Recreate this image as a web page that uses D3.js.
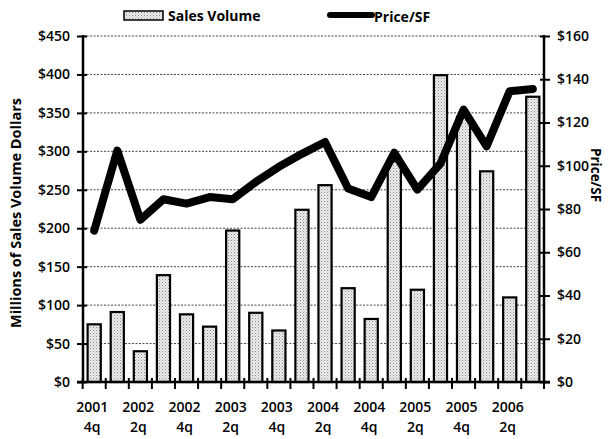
<!DOCTYPE html>
<html>
<head>
<meta charset="utf-8">
<script src="https://cdn.jsdelivr.net/npm/d3@7"></script>
<style>
  html, body { margin: 0; padding: 0; background: #fff; }
  svg { display: block; font-family: "Open Sans", "Noto Sans", sans-serif; }
</style>
</head>
<body>
<svg id="chart" width="613" height="439"></svg>
<script>
// Quarterly periods, 2001 Q4 through 2006 Q3
const quarters = ["2001 4q","2002 1q","2002 2q","2002 3q","2002 4q","2003 1q","2003 2q","2003 3q","2003 4q",
                  "2004 1q","2004 2q","2004 3q","2004 4q","2005 1q","2005 2q","2005 3q","2005 4q",
                  "2006 1q","2006 2q","2006 3q"];
// Sales volume, millions of dollars
const salesVolume = [75, 91, 40, 139, 88, 72, 197, 90, 67, 224, 256, 122, 82, 287, 120, 399, 345, 274, 110, 371];
// Price per square foot, dollars
const pricePerSF = [70, 107, 75, 84.5, 82.5, 85.5, 84.5, 92.5, 99.5, 105.5, 111, 89.5, 85.5, 106, 89, 101, 126, 109, 134.5, 135.5];
// Axis ticks
const leftTicks = [0, 50, 100, 150, 200, 250, 300, 350, 400, 450];
const rightTicks = [0, 20, 40, 60, 80, 100, 120, 140, 160];
// Labelled quarters (every second period)
const labelledQuarters = ["2001 4q","2002 2q","2002 4q","2003 2q","2003 4q","2004 2q","2004 4q","2005 2q","2005 4q","2006 2q"];

(function () {
const svg = d3.select("#chart");
const plotL = 83, plotR = 544, plotT = 36, plotB = 382;

const x = d3.scaleBand().domain(quarters).range([plotL, plotR]).paddingInner(0.43).paddingOuter(0.2);
const step = x.step();
const yL = d3.scaleLinear().domain([0, 450]).range([plotB, plotT]);
const yR = d3.scaleLinear().domain([0, 160]).range([plotB, plotT]);

// Stippled fill for the bars
const defs = svg.append("defs");
const pat = defs.append("pattern").attr("id", "stipple").attr("patternUnits", "userSpaceOnUse")
  .attr("width", 3).attr("height", 3);
pat.append("rect").attr("width", 3).attr("height", 3).attr("fill", "#ececec");
pat.append("rect").attr("x", 0).attr("y", 0).attr("width", 1).attr("height", 1).attr("fill", "#8a8a8a");
pat.append("rect").attr("x", 1.5).attr("y", 1.5).attr("width", 1).attr("height", 1).attr("fill", "#b0b0b0");

// Gridlines
svg.append("g").selectAll("line").data(leftTicks.filter(d => d > 0)).join("line")
  .attr("x1", plotL).attr("x2", plotR)
  .attr("y1", d => yL(d)).attr("y2", d => yL(d))
  .attr("stroke", "#444").attr("stroke-width", 1).attr("stroke-dasharray", "2,1.5");

// Bars
svg.append("g").selectAll("rect").data(salesVolume).join("rect")
  .attr("x", (d, i) => x(quarters[i]))
  .attr("y", d => yL(d))
  .attr("width", x.bandwidth())
  .attr("height", d => plotB - yL(d))
  .attr("fill", "url(#stipple)")
  .attr("stroke", "#000").attr("stroke-width", 2.2);

// Price line
const line = d3.line()
  .x((d, i) => x(quarters[i]) + x.bandwidth() / 2)
  .y(d => yR(d));
svg.append("path").datum(pricePerSF)
  .attr("d", line)
  .attr("fill", "none").attr("stroke", "#000")
  .attr("stroke-width", 8).attr("stroke-linejoin", "round").attr("stroke-linecap", "round");

// Left axis
const gL = svg.append("g").attr("transform", `translate(${plotL},0)`)
  .call(d3.axisLeft(yL).tickValues(leftTicks).tickFormat(d => "$" + d).tickSize(5).tickPadding(8));
gL.select(".domain").attr("stroke-width", 2.5).attr("d", `M0,${plotT - 1}V${plotB + 1}`);
gL.selectAll(".tick line").attr("x1", 4).attr("x2", -6).attr("stroke-width", 2);
gL.selectAll(".tick text").attr("font-size", 14).attr("font-weight", 600).attr("fill", "#000")
  .attr("font-family", "'Open Sans', sans-serif");

// Right axis
const gR = svg.append("g").attr("transform", `translate(${plotR},0)`)
  .call(d3.axisRight(yR).tickValues(rightTicks).tickFormat(d => "$" + d).tickSize(5).tickPadding(8));
gR.select(".domain").attr("stroke-width", 2.5).attr("d", `M0,${plotT - 1}V${plotB + 1}`);
gR.selectAll(".tick line").attr("x1", -4).attr("x2", 6).attr("stroke-width", 2);
gR.selectAll(".tick text").attr("font-size", 14).attr("font-weight", 600).attr("fill", "#000")
  .attr("font-family", "'Open Sans', sans-serif");

// Bottom axis: baseline with ticks at period boundaries
svg.append("line").attr("x1", plotL - 6).attr("x2", plotR + 6).attr("y1", plotB).attr("y2", plotB)
  .attr("stroke", "#000").attr("stroke-width", 2.5);
const boundaries = quarters.map(q => x(q) - (step - x.bandwidth()) / 2).concat([plotR]);
svg.append("g").selectAll("line").data(boundaries).join("line")
  .attr("x1", d => d).attr("x2", d => d).attr("y1", plotB - 4).attr("y2", plotB + 7)
  .attr("stroke", "#000").attr("stroke-width", 2);

// Period labels
const lbl = svg.append("g").attr("font-size", 14).attr("font-weight", 600).attr("text-anchor", "middle");
labelledQuarters.forEach(q => {
  const cx = x(q) + x.bandwidth() / 2 - 2;
  const [yr, qt] = q.split(" ");
  lbl.append("text").attr("x", cx).attr("y", 412).text(yr);
  lbl.append("text").attr("x", cx).attr("y", 432).text(qt);
});

// Axis titles
svg.append("text").attr("transform", `translate(21,${(plotT + plotB) / 2 + 4}) rotate(-90)`)
  .attr("text-anchor", "middle").attr("font-size", 14.5).attr("font-weight", 700)
  .text("Millions of Sales Volume Dollars");
svg.append("text").attr("transform", `translate(591,175) rotate(90)`)
  .attr("text-anchor", "middle").attr("font-size", 13.5).attr("font-weight", 700)
  .text("Price/SF");

// Legend
const leg = svg.append("g");
leg.append("rect").attr("x", 124).attr("y", 11).attr("width", 39).attr("height", 9)
  .attr("fill", "url(#stipple)").attr("stroke", "#000").attr("stroke-width", 1.5);
leg.append("text").attr("x", 168).attr("y", 21).attr("font-size", 14).attr("font-weight", 700).text("Sales Volume");
leg.append("line").attr("x1", 330).attr("x2", 372).attr("y1", 15).attr("y2", 15)
  .attr("stroke", "#000").attr("stroke-width", 6).attr("stroke-linecap", "round");
leg.append("text").attr("x", 374).attr("y", 22).attr("font-size", 14).attr("font-weight", 700).text("Price/SF");
})();
</script>
</body>
</html>
